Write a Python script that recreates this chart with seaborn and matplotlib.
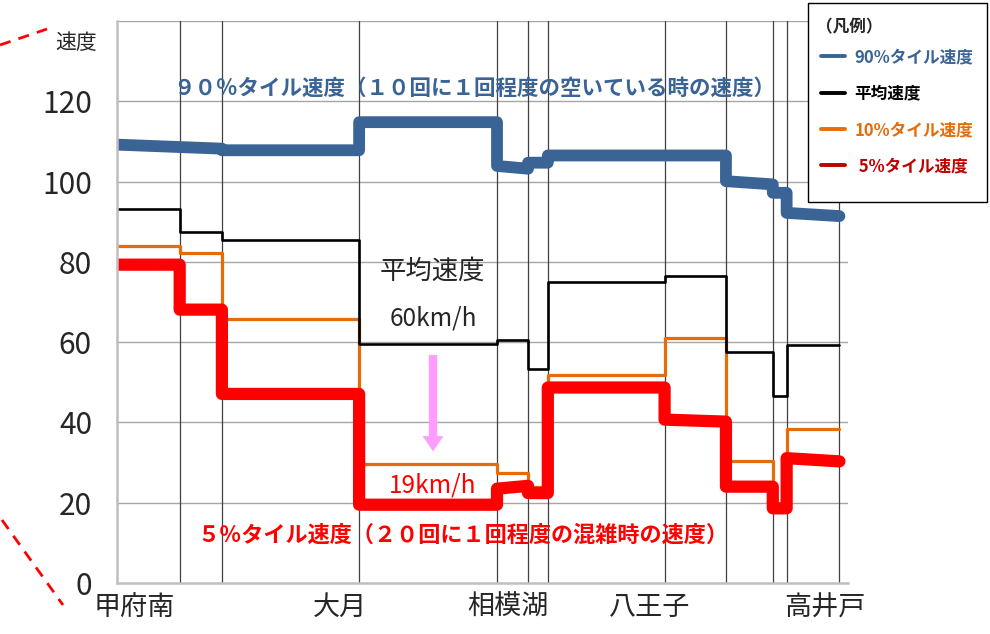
import numpy as np
import pandas as pd
import matplotlib
matplotlib.use('Agg')
import matplotlib.pyplot as plt
import seaborn as sns
from matplotlib.lines import Line2D
from matplotlib.patches import Rectangle

# 区間の境界 (甲府南からの距離 km)
bounds = [0.0, 9.5, 15.9, 36.7, 57.6, 62.3, 65.3, 83.0, 92.3, 99.4, 101.5, 109.5]
stations = ['甲府南', '大月', '相模湖', '八王子', '高井戸']
station_pos = [2.6, 33.8, 59.2, 80.8, 107.3]

# 区間ごとの速度 (km/h) 始点・終点
p90_start = [109.2, 108.6, 107.8, 114.8, 103.9, 104.7, 106.5, 106.5, 100.1, 97.2, 92.2]
p90_end = [108.6, 108.2, 107.8, 114.8, 103.2, 104.7, 106.5, 106.5, 99.3, 97.2, 91.4]
mean_speed = [93.1, 87.4, 85.4, 59.6, 60.5, 53.3, 74.9, 76.4, 57.5, 46.5, 59.4]
p10_speed = [83.9, 82.1, 65.7, 29.7, 27.4, 24.0, 51.7, 61.0, 30.5, 19.5, 38.3]
p5_start = [79.3, 68.1, 47.1, 19.5, 23.5, 22.4, 48.7, 40.7, 24.0, 18.6, 31.1]
p5_end = [79.3, 68.1, 47.1, 19.5, 24.2, 22.4, 48.7, 40.2, 24.0, 18.6, 30.3]

yticks = [0, 20, 40, 60, 80, 100, 120]


def step_df(start, end=None):
    if end is None:
        end = start
    x = np.repeat(bounds, 2)[1:-1]
    y = np.column_stack([start, end]).ravel()
    return pd.DataFrame({'km': x, 'speed': y})


sns.set_style('white')
plt.rcParams['font.family'] = ['Noto Sans CJK JP', 'DejaVu Sans']

fig = plt.figure(figsize=(9.9, 6.34), dpi=100)
ax = fig.add_axes([117 / 990, 1 - 583 / 634, 731 / 990, 562 / 634])

# 格子線
for y in range(20, 141, 20):
    ax.axhline(y, color='#a6a6a6', lw=1.0, zorder=0)
for b in bounds[1:]:
    ax.axvline(b, color='#404040', lw=0.9, zorder=0)

kw = dict(sort=False, estimator=None, solid_joinstyle='round', ax=ax, legend=False)
sns.lineplot(data=step_df(p10_speed), x='km', y='speed', color='#e46c0a', lw=2.3, **kw)
sns.lineplot(data=step_df(mean_speed), x='km', y='speed', color='black', lw=1.9, **kw)
sns.lineplot(data=step_df(p5_start, p5_end), x='km', y='speed', color='#ff0000', lw=8.8, **kw)
sns.lineplot(data=step_df(p90_start, p90_end), x='km', y='speed', color='#3a6496', lw=8.5, **kw)

ax.set_xlim(0, 110.8)
ax.set_ylim(0, 140)
ax.set_yticks(yticks)
ax.set_yticklabels([str(v) for v in yticks], fontsize=21.5)
ax.set_xticks(station_pos)
ax.set_xticklabels(stations, fontsize=19.5)
ax.tick_params(axis='x', length=0, pad=8)
ax.tick_params(axis='y', length=3, color='#a6a6a6', pad=15)
ax.set_xlabel('')
ax.set_ylabel('')
for s in ['top', 'right']:
    ax.spines[s].set_visible(False)
for s in ['left', 'bottom']:
    ax.spines[s].set_color('#bfbfbf')
    ax.spines[s].set_linewidth(1.8)

# 注記
ax.text(54.2, 123.3, '９０％タイル速度（１０回に１回程度の空いている時の速度）',
        color='#3a6496', fontsize=15.5, fontweight='bold', ha='center', va='center')
ax.text(52.4, 12.0, '５％タイル速度（２０回に１回程度の混雑時の速度）',
        color='#ff0000', fontsize=15.9, fontweight='bold', ha='center', va='center')
ax.text(47.8, 77.6, '平均速度', fontsize=19, ha='center', va='center')
ax.text(48.0, 65.8, '60km/h', fontsize=17.5, ha='center', va='center')
ax.text(47.9, 24.2, '19km/h', fontsize=17.5, color='#ff0000', ha='center', va='center')
ax.annotate('', xy=(47.9, 32.1), xytext=(47.9, 57.5),
            arrowprops=dict(arrowstyle='simple,head_width=1.5,head_length=1.1,tail_width=0.6',
                            color='#ff9cff', lw=0))

fig.text(76 / 990, 1 - 43 / 634, '速度', fontsize=15, ha='center', va='center')

# 引き出し用の破線
fig.add_artist(Line2D([0 / 990, 47 / 990], [1 - 45 / 634, 1 - 29 / 634],
                      transform=fig.transFigure, color='#ff0000', lw=2, ls=(0, (4, 3))))
fig.add_artist(Line2D([2 / 990, 63 / 990], [1 - 520 / 634, 1 - 605 / 634],
                      transform=fig.transFigure, color='#ff0000', lw=2, ls=(0, (4, 3))))

# 凡例
fig.add_artist(Rectangle((808 / 990, 1 - 202 / 634), 179 / 990, 199 / 634,
                         transform=fig.transFigure, facecolor='white',
                         edgecolor='black', lw=1.0, zorder=5))
fig.text(816 / 990, 1 - 27 / 634, '（凡例）', fontsize=12, fontweight='bold',
         ha='left', va='center', zorder=6)
handles = [Line2D([], [], color='#3a6496', lw=2.8),
           Line2D([], [], color='black', lw=2.8),
           Line2D([], [], color='#e46c0a', lw=2.8),
           Line2D([], [], color='#c00000', lw=2.8)]
labels = ['90%タイル速度', '平均速度', '10%タイル速度', ' 5%タイル速度']
leg = fig.legend(handles, labels, loc='upper left',
                 bbox_to_anchor=(818 / 990, 1 - 45 / 634), frameon=False,
                 prop={'size': 12, 'weight': 'bold'},
                 handlelength=1.4, handletextpad=0.6, labelspacing=1.1,
                 borderpad=0.2, borderaxespad=0)
leg.set_zorder(6)
for t, c in zip(leg.get_texts(), ['#3a6496', 'black', '#e46c0a', '#c00000']):
    t.set_color(c)

fig.savefig('out.png', dpi=100)
